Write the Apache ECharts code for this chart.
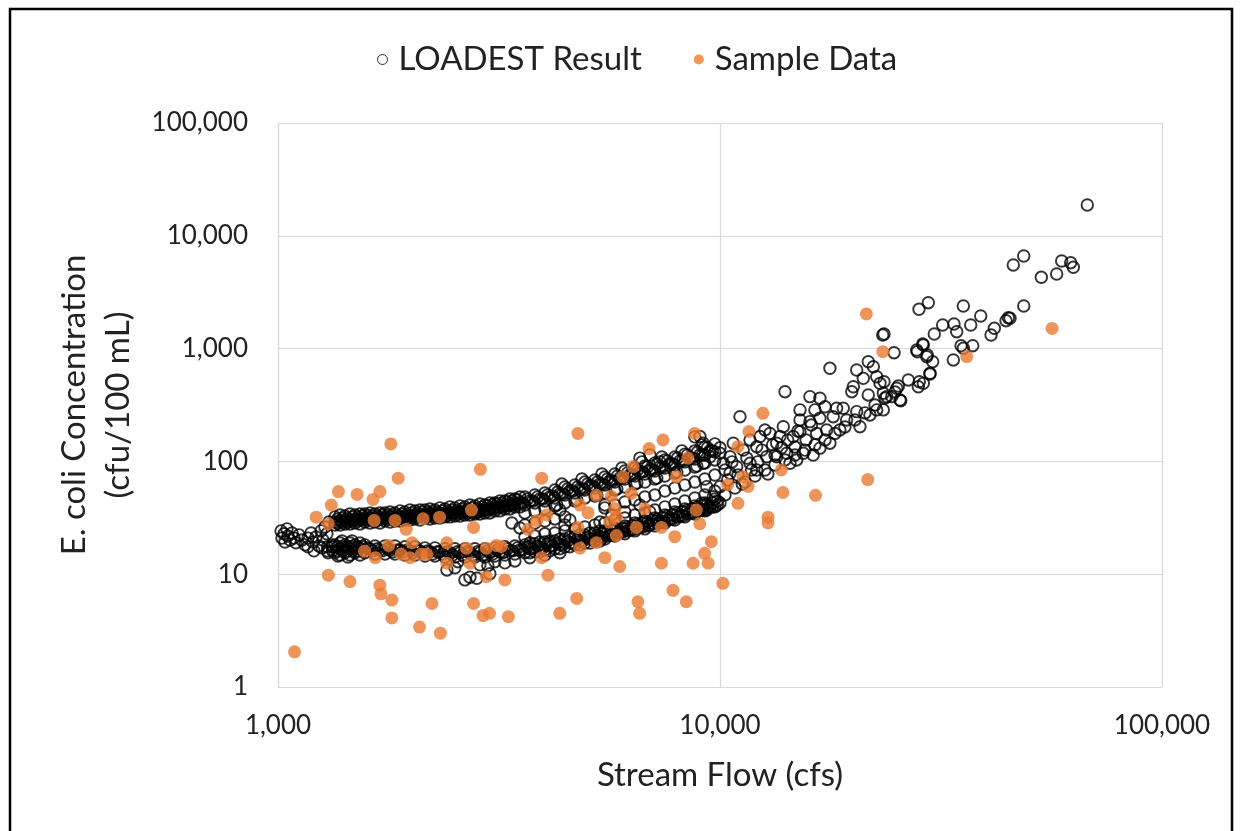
<!DOCTYPE html>
<html>
<head>
<meta charset="utf-8">
<script src="https://cdn.jsdelivr.net/npm/echarts@6/dist/echarts.min.js"></script>
<style>
html,body{margin:0;padding:0;background:#fff;}
#chart{width:1243px;height:831px;}
</style>
</head>
<body>
<div id="chart"></div>
<script>
// Axis tick values
const xTicks = [1000, 10000, 100000];
const yTicks = [1, 10, 100, 1000, 10000, 100000];

// LOADEST Result: [flow (cfs), concentration (cfu/100 mL)]
const loadestLowFlow = [
[1016,24.2],[1021,20.9],[1032,22.8],[1037,19.3],[1048,25.2],[1053,21.8],[1065,20.1],[1076,23.2],[1087,20.9],[1098,19.0],
[1116,22.3],[1133,20.1],[1151,18.2],[1169,20.9],[1188,23.2],[1200,19.3],[1219,21.4],[1238,17.8],[1251,24.2],[1264,20.1],
[1277,26.2],[1290,22.8],[1304,29],[1169,17.5],[1206,16.1],[1258,17.1],[1298,15.5],[1325,18.2]
];
const loadestUpperBranch = [
[1346,32.2],[1346,27.3],[1382,29.6],[1418,32.8],[1418,27.9],[1455,30.2],[1493,33.5],[1493,28.4],[1533,30.9],
[1573,34.2],[1573,29.0],[1615,31.5],[1657,34.2],[1657,29.0],[1701,31.5],[1746,34.9],[1746,29.6],[1792,32.2],
[1839,34.9],[1839,29.6],[1888,32.2],[1937,35.6],[1937,30.2],[1988,32.8],[2041,36.4],[2041,30.9],[2095,33.5],
[2150,37.1],[2150,31.5],[2207,34.2],[2265,37.1],[2265,31.5],[2325,34.2],[2386,37.9],[2386,32.2],[2449,34.9],
[2513,38.7],[2513,32.8],[2580,35.6],[2648,39.5],[2648,33.5],[2718,36.4],[2789,40.3],[2789,34.2],[2863,37.1],
[2938,41.1],[2938,34.9],[3015,37.9],[3095,42.8],[3095,36.4],[3177,39.5],[3261,44.6],[3261,37.9],[3347,41.1],
[3435,46.4],[3435,39.5],[3526,42.8],[3619,48.4],[3619,41.1],[3714,44.6],[3812,50.4],[3812,42.8],[3913,46.4],
[4016,52.5],[4016,44.6],[4122,48.4],[4231,55.8],[4231,47.4],[4343,51.4],[4457,59.3],[4457,50.4],[4575,54.6],
[4695,61.8],[4695,52.5],[4819,56.9],[4946,65.6],[4946,55.8],[5077,60.5],[5211,68.4],[5211,58.1],[5349,63],
[5489,72.7],[5489,61.8],[5634,67],[5783,77.3],[5783,65.6],[5936,71.2],[6092,82.2],[6092,69.8],[6253,75.7],
[6418,87.4],[6418,74.2],[6587,80.5],[6761,91],[6761,77.3],[6940,83.9],[7122,97],[7122,82.2],[7311,89.2],
[7503,103],[7503,87.4],[7701,95],[7904,109.5],[7904,92.9],[8113,101],[8326,116],[8326,99],[8547,107],
[8771,124],[8771,105],[9004,114],[9240,134],[9240,114],[9486,124],[9734,143],[9734,121],[10000,132],
[4275,41.1],[4389,63],[4744,45.5],[4870,69.8],[5266,50.4],[5405,77.3],[5844,56.9],[5999,87.4],
[6485,64.3],[6657,99],[7197,71.2],[7388,109.5],[7987,80.5],[8199,124],[8863,91],[9098,140],
[6587,107],[6940,114],[7311,99],[8771,165]
];
const loadestUpperDense = [
[1364,30.9],[1364,28.4],[1400,31.5],[1400,29.0],[1437,31.5],[1437,29.0],[1475,32.2],[1475,29.6],[1514,32.2],[1514,29.6],
[1554,32.8],[1554,30.2],[1595,32.8],[1595,30.2],[1637,32.8],[1637,30.2],[1680,32.8],[1680,30.2],[1724,33.5],[1724,30.9],
[1770,33.5],[1770,30.9],[1817,33.5],[1817,30.9],[1865,33.5],[1865,30.9],[1914,34.2],[1914,31.5],[1964,34.2],[1964,31.5],
[2016,34.9],[2016,32.2],[2069,34.9],[2069,32.2],[2124,35.6],[2124,32.8],[2180,35.6],[2180,32.8],[2238,35.6],[2238,32.8],
[2297,35.6],[2297,32.8],[2357,36.4],[2357,33.5],[2419,36.4],[2419,33.5],[2483,37.1],[2483,34.2],[2549,37.1],[2549,34.2],
[2616,37.9],[2616,34.9],[2685,37.9],[2685,34.9],[2756,38.7],[2756,35.6],[2829,38.7],[2829,35.6],[2903,39.5],[2903,36.4],
[2980,40.3],[2980,37.1],[3059,41.1],[3059,37.9],[3139,41.9],[3139,38.7],[3222,42.8],[3222,39.5],[3307,43.7],[3307,40.3],
[3394,44.6],[3394,41.1],[3484,45.5],[3484,41.9],
[3576,42.8],[3670,46.4],[3767,44.6],[3866,48.4],[3968,46.4],[4073,50.4],[4180,49.4],[4291,53.5],[4404,51.4],[4520,56.9],
[4639,54.6],[4762,59.3],[4887,56.9],[5016,63],[5148,60.5],[5282,65.6],[5421,63],[5564,69.8],[5711,67],[5862,74.2],
[6016,71.2],[6175,78.9],[6338,75.7],[6505,83.9],[6677,80.5],[6853,89.2],[7034,83.9],[7219,95],[7410,89.2],[7605,101],
[7806,95],[8012,107],[8223,101],[8440,114],[8663,107],[8892,121],[9126,114],[9367,132],[9614,124]
];
const loadestUpperFill = [
[1382,33.5],[1382,27.3],[1455,34.2],[1455,27.9],[1533,34.2],[1533,27.9],[1615,34.9],[1615,28.4],[1701,34.9],[1701,28.4],
[1792,35.6],[1792,29.0],[1888,36.4],[1888,29.6],[1988,37.1],[1988,30.2],[2095,37.1],[2095,30.2],[2207,37.9],[2207,30.9],
[2325,38.7],[2325,31.5],[2449,39.5],[2449,32.2],[2580,40.3],[2580,32.8],[2718,41.1],[2718,33.5],[2863,41.9],[2863,34.2],
[3015,42.8],[3015,34.9],[3177,44.6],[3177,36.4],[3347,46.4],[3347,37.9],[3526,48.4],[3526,39.5],
[1346,29.0],[1418,29.6],[1493,30.2],[1573,30.9],[1657,30.9],[1746,31.5],[1839,31.5],[1937,32.2],[2041,32.8],[2150,33.5],
[2265,33.5],[2386,34.2],[2513,34.9],[2648,35.6],[2789,36.4],[2938,37.1],[3095,38.7],[3261,40.3],[3435,41.9]
];
const loadestBetweenBranches = [
[3619,34.9],[3619,21.4],[3619,27.3],[3812,36.4],[3812,21.8],[3812,28.4],[4016,37.9],[4016,22.8],[4016,29.6],
[4231,40.3],[4231,23.2],[4231,30.9],[4457,42.8],[4457,24.2],[4457,32.2],[4695,44.6],[4695,25.2],
[4946,47.4],[4946,26.2],[5211,49.4],[5211,27.3],[5489,52.5],[5489,28.4],[5489,38.7],
[5783,55.8],[5783,30.2],[5783,41.1],[6092,59.3],[6092,31.5],[6092,43.7],[6418,63],[6418,33.5],[6418,45.5],
[6761,65.6],[6761,34.9],[6761,48.4],[7122,69.8],[7122,37.1],[7122,50.4],[7503,74.2],[7503,39.5],[7503,54.6],
[7904,78.9],[7904,41.9],[7904,58.1],[8326,83.9],[8326,44.6],[8326,61.8],[8771,89.2],[8771,47.4],[8771,65.6],
[9240,97],[9240,50.4],[9240,69.8],[9734,103],[9734,54.6],[9734,75.7]
];
const loadestLowerBranch = [
[1346,18.2],[1346,15.5],[1382,16.8],[1418,18.2],[1418,15.5],[1455,16.8],[1493,18.2],[1493,15.5],[1533,16.8],
[1573,18.2],[1573,15.5],[1615,16.8],[1657,17.8],[1657,15.1],[1701,16.4],[1746,17.8],[1746,15.1],[1792,16.4],
[1839,17.8],[1839,15.1],[1888,16.4],[1937,17.5],[1937,14.8],[1988,16.1],[2041,17.5],[2041,14.8],[2095,16.1],
[2150,17.1],[2150,14.5],[2207,15.8],[2265,17.1],[2265,14.5],[2325,15.8],[2386,16.8],[2386,14.2],[2449,15.5],
[2513,16.8],[2513,14.2],[2580,15.5],[2648,16.8],[2648,14.2],[2718,15.5],[2789,16.8],[2789,14.2],[2863,15.5],
[2938,16.8],[2938,14.2],[3015,15.5],[3095,17.1],[3095,14.5],[3177,15.8],[3261,17.5],[3261,14.8],[3347,16.1],
[3435,17.8],[3435,15.1],[3526,16.4],[3619,18.2],[3619,15.5],[3714,16.8],[3812,18.6],[3812,15.8],[3913,17.1],
[4016,19.3],[4016,16.4],[4122,17.8],[4231,19.7],[4231,16.8],[4343,18.2],[4457,20.5],[4457,17.5],[4575,18.9],
[4695,21.4],[4695,18.2],[4819,19.7],[4946,22.3],[4946,18.9],[5077,20.5],[5211,23.2],[5211,19.7],[5349,21.4],
[5489,24.2],[5489,20.5],[5634,22.3],[5783,25.7],[5783,21.8],[5936,23.7],[6092,26.8],[6092,22.8],[6253,24.7],
[6418,28.4],[6418,24.2],[6587,26.2],[6761,29.6],[6761,25.2],[6940,27.3],[7122,31.5],[7122,26.8],[7311,29.0],
[7503,33.5],[7503,28.4],[7701,30.9],[7904,35.6],[7904,30.2],[8113,32.8],[8326,37.9],[8326,32.2],[8547,34.9],
[8771,40.3],[8771,34.2],[9004,37.1],[9240,42.8],[9240,36.4],[9486,39.5],[9734,46.4],[9734,39.5],[10000,42.8],
[1367,14.5],[1440,14.2],[1471,19.7],[1396,19.7],[3095,12.9],[3261,12.6],[3435,13.1],[2984,11.9],[3714,14.0],
[4016,14.8],[4343,15.5],[2411,10.9],[2513,11.4],[2648,8.9],[2718,9.4],[2818,9.2],[3015,10.1],[2553,12.9],[2863,12.1],
[3382,28.4],[3526,25.7],[4343,37.1],[4575,30.2],[4457,27.3],[5489,41.1],[5693,33.5],[5349,29.0],[6092,35.6],
[6587,41.1],[6940,35.6]
];
const loadestLowerDense = [
[1294,17.5],[1294,16.1],[1328,17.5],[1328,16.1],[1364,17.5],[1364,16.1],[1400,17.5],[1400,16.1],[1437,17.5],[1437,16.1],
[1475,17.5],[1475,16.1],[1514,17.5],[1514,16.1],[1554,17.5],[1554,16.1],
[1595,17.1],[1637,16.1],[1680,16.8],[1724,16.1],[1770,16.8],[1817,15.8],[1865,16.4],[1914,15.8],[1964,16.4],[2016,15.5],
[2069,16.1],[2124,15.5],[2180,16.1],[2238,15.1],[2297,15.8],[2357,15.1],[2419,15.8],[2483,14.8],[2549,15.8],[2616,14.8],
[2685,15.8],[2756,14.8],[2829,15.8],[2903,14.8],[2980,16.1],[3059,15.1],[3139,16.4],[3222,15.5],[3307,16.8],[3394,16.1],
[3484,17.1],[3576,16.4],[3670,17.5],[3767,16.8],[3866,17.8],[3968,17.1],[4073,18.6],[4180,17.8],[4291,18.9],[4404,18.2],
[4520,19.7],[4639,18.9],[4762,20.5],[4887,19.7],[5016,21.4],[5148,20.5],
[5282,22.3],[5282,20.5],[5421,22.8],[5421,21.0],[5564,23.7],[5564,21.8],[5711,24.2],[5711,22.3],[5862,25.2],[5862,23.2],
[6016,25.7],[6016,23.7],[6175,26.2],[6175,24.2],[6338,26.8],[6338,24.7],[6505,27.9],[6505,25.7],[6677,28.4],[6677,26.2],
[6853,29.0],[6853,26.8],[7034,30.2],[7034,27.9],[7219,30.9],[7219,28.4],[7410,31.5],[7410,29.0],[7605,32.8],[7605,30.2],
[7806,33.5],[7806,30.9],[8012,34.9],[8012,32.2],[8223,35.6],[8223,32.8],[8440,37.1],[8440,34.2],[8663,37.9],[8663,34.9],
[8892,39.5],[8892,36.4],[9126,40.3],[9126,37.1],[9367,41.9],[9367,38.7],[9614,42.8],[9614,39.5],[9868,44.6],[9868,41.1],
[1382,18.9],[1382,14.8],[1455,18.9],[1455,14.8],[1533,18.9],[1533,14.8],
[3714,18.9],[3714,15.5],[3913,19.3],[3913,15.8],[4122,19.7],[4122,16.1],[4343,20.5],[4343,16.8],[4575,21.4],[4575,17.5],
[4819,22.3],[4819,18.2],[5077,23.2],[5077,18.9],[5349,24.2],[5349,19.7]
];
const loadestMidFlow = [
[23342,1320],[24765,920],[27860,972],[28838,1076],[29354,848],[29863,604],[26670,527],[28096,459],[28838,492],
[17729,669],[14029,415],[11098,249],[20382,646],[21650,765],[22227,691],[20030,459],[21094,545],[22623,563],
[21650,388],[23014,492],[23832,375],[25115,445],[25545,350],[19866,415],[15973,375],[16829,363],[15171,286],
[16396,286],[17285,305],[18358,296],[19000,296],[20382,276],[21840,258],[22623,286],[15171,233],[15973,225],
[16829,241],[18036,249],[19338,233],[20734,203],[18671,190],[17426,190],[16542,177],[17729,145],[16829,131],
[16251,114],[15171,183],[14648,166],[13905,203],[13668,166],[13435,145],[12974,177],[12639,190],[12314,166],
[12106,135],[11693,155],[11290,126],[10717,145],[10535,110],[10173,96.2],[10000,118],[9492,110],[9168,96.2],
[9331,59.7],[9657,48.6],[10000,59.7],[10535,78.5],[10909,89.7],[11693,96.2],[12106,83.9],[12752,110],[13435,110],
[14153,118],[14399,96.2],[14910,103],[15434,118],[9010,166],[9168,145],[9091,42.5],[9331,37.1],
[10264,50.4],[10813,58.1],[11394,65.6],[12000,74.2],[12639,83.9],[13316,92.9],[14029,103],[14779,114],[15570,126],
[16396,140],[17285,155],[18200,177],[19170,202],[20200,233],[21280,269],[22420,316],[23620,365],[24890,412],
[10264,83.9],[10406,68.4],[10643,99],[10980,75.7],[11230,63],[11500,107],[11783,83.9],[12170,99],[12443,126],
[12835,77.3],[13150,140],[13316,114],[13783,132],[14228,155],[14779,134],[15000,186],[15660,155],[16100,210]
];
const loadestHighFlow = [
[67764,18750],[48661,6622],[46088,5510],[59296,5977],[62140,5773],[63007,5256],[57770,4585],[53328,4287],
[48661,2386],[44904,1879],[44370,1767],[41755,1514],[41040,1320],[35524,2386],[29600,2553],[28200,2230],
[38890,1945],[36919,1619],[33843,1652],[34321,1412],[31896,1619],[30534,1347],[23500,1347],[28750,1098],
[27950,938],[29446,878],[30280,765],[37306,1061],[35101,1061],[33720,793],[29863,595],[28242,509],[25325,466],
[23500,509],[23415,402],[24470,375],[25640,345],[23415,286],[45302,1856],[35524,1006]
];

// Sample Data: [flow (cfs), concentration (cfu/100 mL)]
const sampleData = [
[1800,143],[2870,85],[1870,71],[1370,54],[1510,51],[1700,54],[1640,46],[1320,41],[1220,32],[1300,28],[1650,30],
[1840,30],[2130,31],[2320,32],[2740,37],[2770,26],[1950,25],[2010,19],[1570,16],[1660,14],[1780,18],[1900,15],
[1990,14],[2110,15],[2170,15],[2410,19],[2670,17],[2960,17],[3120,18],[2410,12.5],[2720,12.5],[2960,9.5],
[1300,9.8],[1455,8.6],[1700,8],[1710,6.7],[1810,5.9],[1810,4.1],[2230,5.5],[2770,5.5],[2910,4.3],[3010,4.5],
[2090,3.4],[2330,3],[1090,2.05],
[4770,177],[8760,177],[7430,155],[6910,130],[3950,71],[6360,90],[6030,73],[8460,107],[7970,73],[6300,52],
[5680,49],[5250,50],[4820,41],[5030,35],[5780,38],[5830,32],[5630,29],[6760,38],[8840,37],[9000,28],[4050,33.5],
[3850,30],[3680,25],[4770,26],[6470,26],[7370,26],[5830,22],[7900,21.5],[3200,17.6],[4820,17],[5250,19],
[3950,14],[5490,14],[5930,11.7],[9560,19.4],[7370,12.5],[8690,12.5],[9230,15.3],[9400,12.5],[4080,9.8],
[3260,8.9],[7830,7.2],[4740,6.1],[8390,5.7],[6520,5.7],[6580,4.5],[3320,4.2],[4340,4.5],
[23350,940],[12500,267],[11630,184],[10980,135],[13760,84],[11270,73],[10410,62],[11570,60],[10980,42.5],
[13880,53],[16450,50],[21590,69],[12840,32],[12840,28.5],[10150,8.3],[56400,1510],[36160,850],[21440,2030]
];

const loadestData = [].concat(loadestLowFlow, loadestUpperBranch, loadestUpperDense, loadestUpperFill,
  loadestBetweenBranches, loadestLowerBranch, loadestLowerDense, loadestMidFlow, loadestHighFlow);

const FONT = 'Lato, "Open Sans", sans-serif';
const fmt = v => Math.round(v).toLocaleString('en-US');

const chart = echarts.init(document.getElementById('chart'), null, {renderer: 'canvas'});
chart.setOption({
  animation: false,
  backgroundColor: '#ffffff',
  textStyle: {fontFamily: FONT},
  graphic: [{
    type: 'rect', z: 100, silent: true,
    shape: {x: 10, y: 9, width: 1222, height: 840},
    style: {fill: 'none', stroke: '#000', lineWidth: 2.5}
  }],
  legend: {
    left: 372, top: 38,
    itemWidth: 10, itemHeight: 10, itemGap: 52,
    textStyle: {fontSize: 33, color: '#222', fontFamily: FONT, padding: [0, 0, 0, 6]},
    data: [
      {name: 'LOADEST Result', icon: 'circle', itemStyle: {color: 'rgba(0,0,0,0)', borderColor: '#000', borderWidth: 1}},
      {name: 'Sample Data', icon: 'circle', itemStyle: {color: '#ED7D31'}}
    ]
  },
  grid: {left: 278, right: 81, top: 123, bottom: 144, containLabel: false},
  xAxis: {
    type: 'log', logBase: 10, min: xTicks[0], max: xTicks[xTicks.length - 1],
    name: 'Stream Flow (cfs)', nameLocation: 'middle', nameGap: 72,
    nameTextStyle: {fontSize: 33, color: '#222', fontFamily: FONT},
    axisLine: {show: false}, axisTick: {show: false},
    axisLabel: {fontSize: 26, color: '#222', margin: 26, fontFamily: FONT, formatter: fmt},
    splitLine: {show: true, lineStyle: {color: '#d9d9d9', width: 1.2}}
  },
  yAxis: {
    type: 'log', logBase: 10, min: yTicks[0], max: yTicks[yTicks.length - 1],
    name: 'E. coli Concentration\n(cfu/100 mL)', nameLocation: 'middle', nameGap: 138, nameRotate: 90,
    nameTextStyle: {fontSize: 33, color: '#222', fontFamily: FONT, lineHeight: 44},
    axisLine: {show: false}, axisTick: {show: false},
    axisLabel: {fontSize: 26, color: '#222', margin: 30, fontFamily: FONT, formatter: fmt},
    splitLine: {show: true, lineStyle: {color: '#d9d9d9', width: 1.2}}
  },
  series: [
    {
      name: 'LOADEST Result', type: 'scatter', data: loadestData,
      symbol: 'circle', symbolSize: 11.5, large: false,
      itemStyle: {color: 'rgba(0,0,0,0)', borderColor: '#000', borderWidth: 1.9},
      z: 2
    },
    {
      name: 'Sample Data', type: 'scatter', data: sampleData,
      symbol: 'circle', symbolSize: 13,
      itemStyle: {color: '#EA7A33'},
      z: 3
    }
  ]
});
</script>
</body>
</html>
